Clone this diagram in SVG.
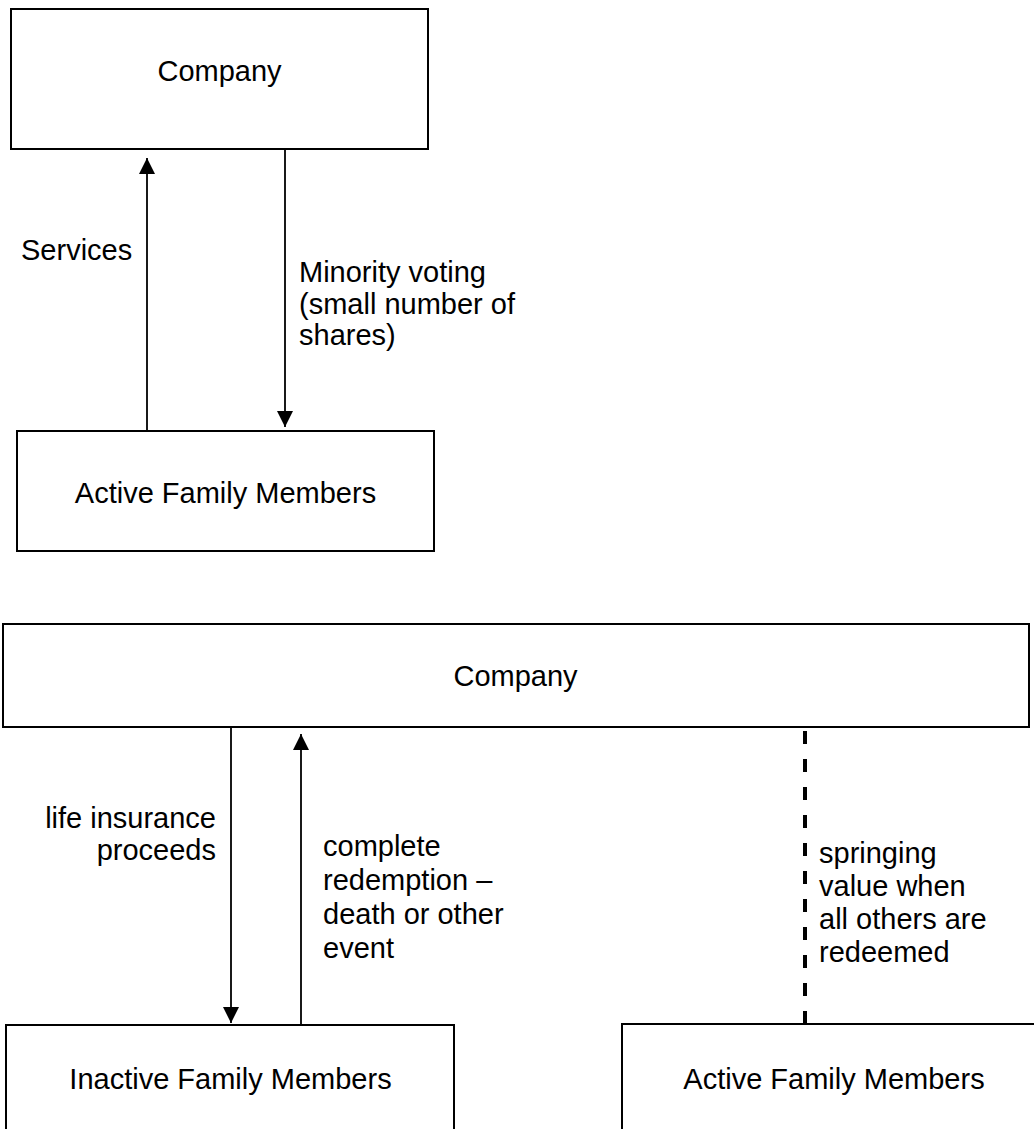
<svg xmlns="http://www.w3.org/2000/svg" width="1034" height="1129" viewBox="0 0 1034 1129">
<style>
  .box { fill: #ffffff; stroke: #000000; stroke-width: 2; }
  .lbl { font-family: "Liberation Sans", Arial, sans-serif; font-size: 29px; fill: #000000; }
  .mid { text-anchor: middle; }
  .end { text-anchor: end; }
  .arrow { stroke: #000000; stroke-width: 1.8; fill: none; }
  .dash { stroke: #000000; stroke-width: 4; fill: none; stroke-dasharray: 13 15; }
</style>
<defs>
  <marker id="ah" markerUnits="userSpaceOnUse" markerWidth="16" markerHeight="16" viewBox="0 0 15 15" refX="15" refY="7.5" orient="auto">
    <path d="M0,0 L15,7.5 L0,15 z" fill="#000000"/>
  </marker>
</defs>
<rect width="1034" height="1129" fill="#ffffff"/>

<g id="connectors">
  <line class="arrow" x1="147" y1="431" x2="147" y2="158" marker-end="url(#ah)"/>
  <line class="arrow" x1="285" y1="149" x2="285" y2="427" marker-end="url(#ah)"/>
  <line class="arrow" x1="231" y1="727" x2="231" y2="1023" marker-end="url(#ah)"/>
  <line class="arrow" x1="301" y1="1025" x2="301" y2="734" marker-end="url(#ah)"/>
  <line class="dash" x1="805" y1="731" x2="805" y2="1024"/>
  <text class="lbl" x="21" y="260">Services</text>
  <text class="lbl" x="299" y="282">Minority voting</text>
  <text class="lbl" x="299" y="314">(small number of</text>
  <text class="lbl" x="299" y="345">shares)</text>
  <text class="lbl end" x="216" y="828">life insurance</text>
  <text class="lbl end" x="216" y="860">proceeds</text>
  <text class="lbl" x="323" y="856">complete</text>
  <text class="lbl" x="323" y="890">redemption –</text>
  <text class="lbl" x="323" y="924">death or other</text>
  <text class="lbl" x="323" y="958">event</text>
  <text class="lbl" x="819" y="863">springing</text>
  <text class="lbl" x="819" y="896">value when</text>
  <text class="lbl" x="819" y="929">all others are</text>
  <text class="lbl" x="819" y="962">redeemed</text>
</g>

<g id="company-top">
  <rect class="box" x="11" y="9" width="417" height="140"/>
  <text class="lbl mid" x="219.5" y="81">Company</text>
</g>
<g id="active-top">
  <rect class="box" x="17" y="431" width="417" height="120"/>
  <text class="lbl mid" x="225.5" y="503">Active Family Members</text>
</g>
<g id="company-bottom">
  <rect class="box" x="3" y="624" width="1026" height="103"/>
  <text class="lbl mid" x="515.5" y="686">Company</text>
</g>
<g id="inactive-bottom">
  <rect class="box" x="6" y="1025" width="448" height="140"/>
  <text class="lbl mid" x="230.5" y="1089">Inactive Family Members</text>
</g>
<g id="active-bottom">
  <rect class="box" x="622" y="1024" width="424" height="140"/>
  <text class="lbl mid" x="834" y="1089">Active Family Members</text>
</g>
</svg>
